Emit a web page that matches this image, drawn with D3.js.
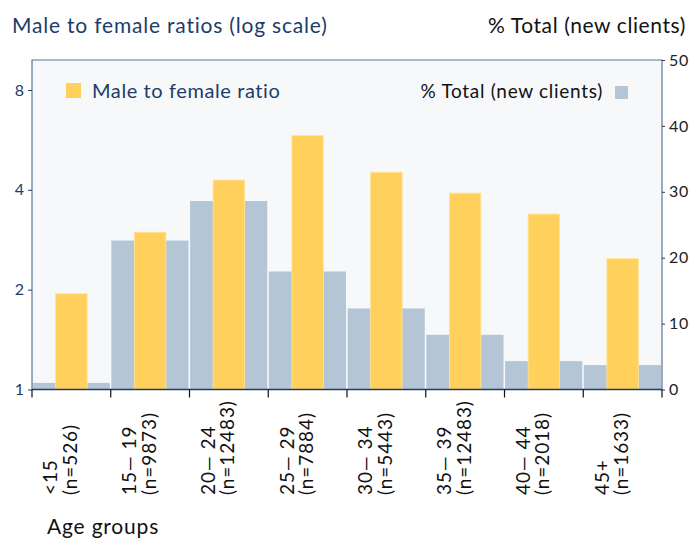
<!DOCTYPE html>
<html><head><meta charset="utf-8">
<script src="https://cdn.jsdelivr.net/npm/d3@7"></script>
<style>body{margin:0;background:#fff}svg{display:block}text{font-family:Lato,"Open Sans",sans-serif}</style>
</head><body><svg id="c" width="690" height="539"></svg>
<script>
const categories = ["<15","15\u2014 19","20\u2014 24","25\u2014 29","30\u2014 34","35\u2014 39","40\u2014 44","45+"];
const nLabels = ["(n=526)","(n=9873)","(n=12483)","(n=7884)","(n=5443)","(n=12483)","(n=2018)","(n=1633)"];
const ratio = [1.945, 2.98, 4.28, 5.83, 4.52, 3.91, 3.38, 2.48];
const pctTotal = [1.0, 22.6, 28.6, 17.9, 12.3, 8.3, 4.3, 3.7];
const leftTicks = [1, 2, 4, 8];
const rightTicks = [0, 10, 20, 30, 40, 50];

const svg = d3.select("#c");
const L = 32, R = 662, T = 60, B = 389.5;
const navy = "#1d3b6b";
const x = d3.scaleBand().domain(categories).range([L, R]).padding(0);
const yL = d3.scaleLog().domain([1, 9.85]).range([B, T]);
const yR = d3.scaleLinear().domain([0, 50]).range([B, T]);

svg.append("rect").attr("x", L).attr("y", T).attr("width", R - L).attr("height", B - T).attr("fill", "#f6f8fa");

// grey bars
svg.append("g").selectAll("rect").data(pctTotal).join("rect")
  .attr("x", (d, i) => x(categories[i]) + 0.6)
  .attr("width", x.bandwidth() - 1.6)
  .attr("y", d => yR(d)).attr("height", d => B - yR(d))
  .attr("fill", "#b4c5d5");

// yellow bars
const yw = x.bandwidth() * 0.40;
svg.append("g").selectAll("rect").data(ratio).join("rect")
  .attr("x", (d, i) => x(categories[i]) + x.bandwidth() / 2 - yw / 2)
  .attr("width", yw)
  .attr("y", d => yL(d)).attr("height", d => B - yL(d))
  .attr("fill", "#ffd15c").attr("stroke", "#ffe59a").attr("stroke-width", 0.8);

// frame
svg.append("path").attr("d", `M${L},${B}V${T}H${R}V${B}`).attr("fill", "none").attr("stroke", "#5b7499").attr("stroke-width", 1.2);
svg.append("line").attr("x1", L).attr("x2", R).attr("y1", B).attr("y2", B).attr("stroke", navy).attr("stroke-width", 1.5);

// left axis
const gl = svg.append("g").attr("transform", `translate(${L},0)`)
  .call(d3.axisLeft(yL).tickValues(leftTicks).tickFormat(d3.format("d")).tickSize(4).tickPadding(4));
gl.select(".domain").remove();
gl.selectAll("line").attr("stroke", navy);
gl.selectAll("text").attr("font-size", 16).attr("fill", navy).style("font-family", "Lato, sans-serif");

// right axis
const gr = svg.append("g").attr("transform", `translate(${R},0)`)
  .call(d3.axisRight(yR).tickValues(rightTicks).tickSize(3).tickPadding(4));
gr.select(".domain").remove();
gr.selectAll("line").attr("stroke", "#333");
gr.selectAll("text").attr("font-size", 16).attr("fill", "#222").attr("letter-spacing", 0.6).style("font-family", "Lato, sans-serif");

// x ticks at band boundaries
const bounds = categories.map(c => x(c)).concat([R]);
svg.append("g").selectAll("line").data(bounds).join("line")
  .attr("x1", d => d).attr("x2", d => d).attr("y1", B).attr("y2", B + 8)
  .attr("stroke", "#111").attr("stroke-width", 1.2);

// x labels rotated
const lab = svg.append("g").selectAll("g").data(categories).join("g")
  .attr("transform", c => `translate(${x(c) + x.bandwidth() / 2 - 14},495) rotate(-90)`);
lab.append("text").attr("x", 0).attr("y", 0).attr("text-anchor", "start")
  .attr("font-size", 19).attr("letter-spacing", 0.9).attr("fill", "#111").text(c => c);
lab.append("text").attr("x", 0).attr("y", 19.5).attr("text-anchor", "start")
  .attr("font-size", 19).attr("letter-spacing", 0.9).attr("fill", "#111").text((c, i) => nLabels[i]);

svg.append("text").attr("x", 47).attr("y", 534).attr("font-size", 21).attr("letter-spacing", 0.8).attr("fill", "#111").text("Age groups");

// titles
svg.append("text").attr("x", 12).attr("y", 33).attr("font-size", 21).attr("letter-spacing", 0.8).attr("fill", navy).text("Male to female ratios (log scale)");
svg.append("text").attr("x", 686).attr("y", 33).attr("text-anchor", "end").attr("font-size", 21).attr("letter-spacing", 0.6).attr("fill", "#111").text("% Total (new clients)");

// legends
svg.append("rect").attr("x", 66).attr("y", 83).attr("width", 15).attr("height", 15).attr("fill", "#ffd15c");
svg.append("text").attr("x", 92).attr("y", 98).attr("font-size", 20).attr("letter-spacing", 0.6).attr("fill", navy).text("Male to female ratio");
svg.append("rect").attr("x", 615).attr("y", 86).attr("width", 13).attr("height", 13).attr("fill", "#b4c5d5");
svg.append("text").attr("x", 603).attr("y", 98).attr("text-anchor", "end").attr("font-size", 19).attr("letter-spacing", 0.7).attr("fill", "#111").text("% Total (new clients)");
</script></body></html>
